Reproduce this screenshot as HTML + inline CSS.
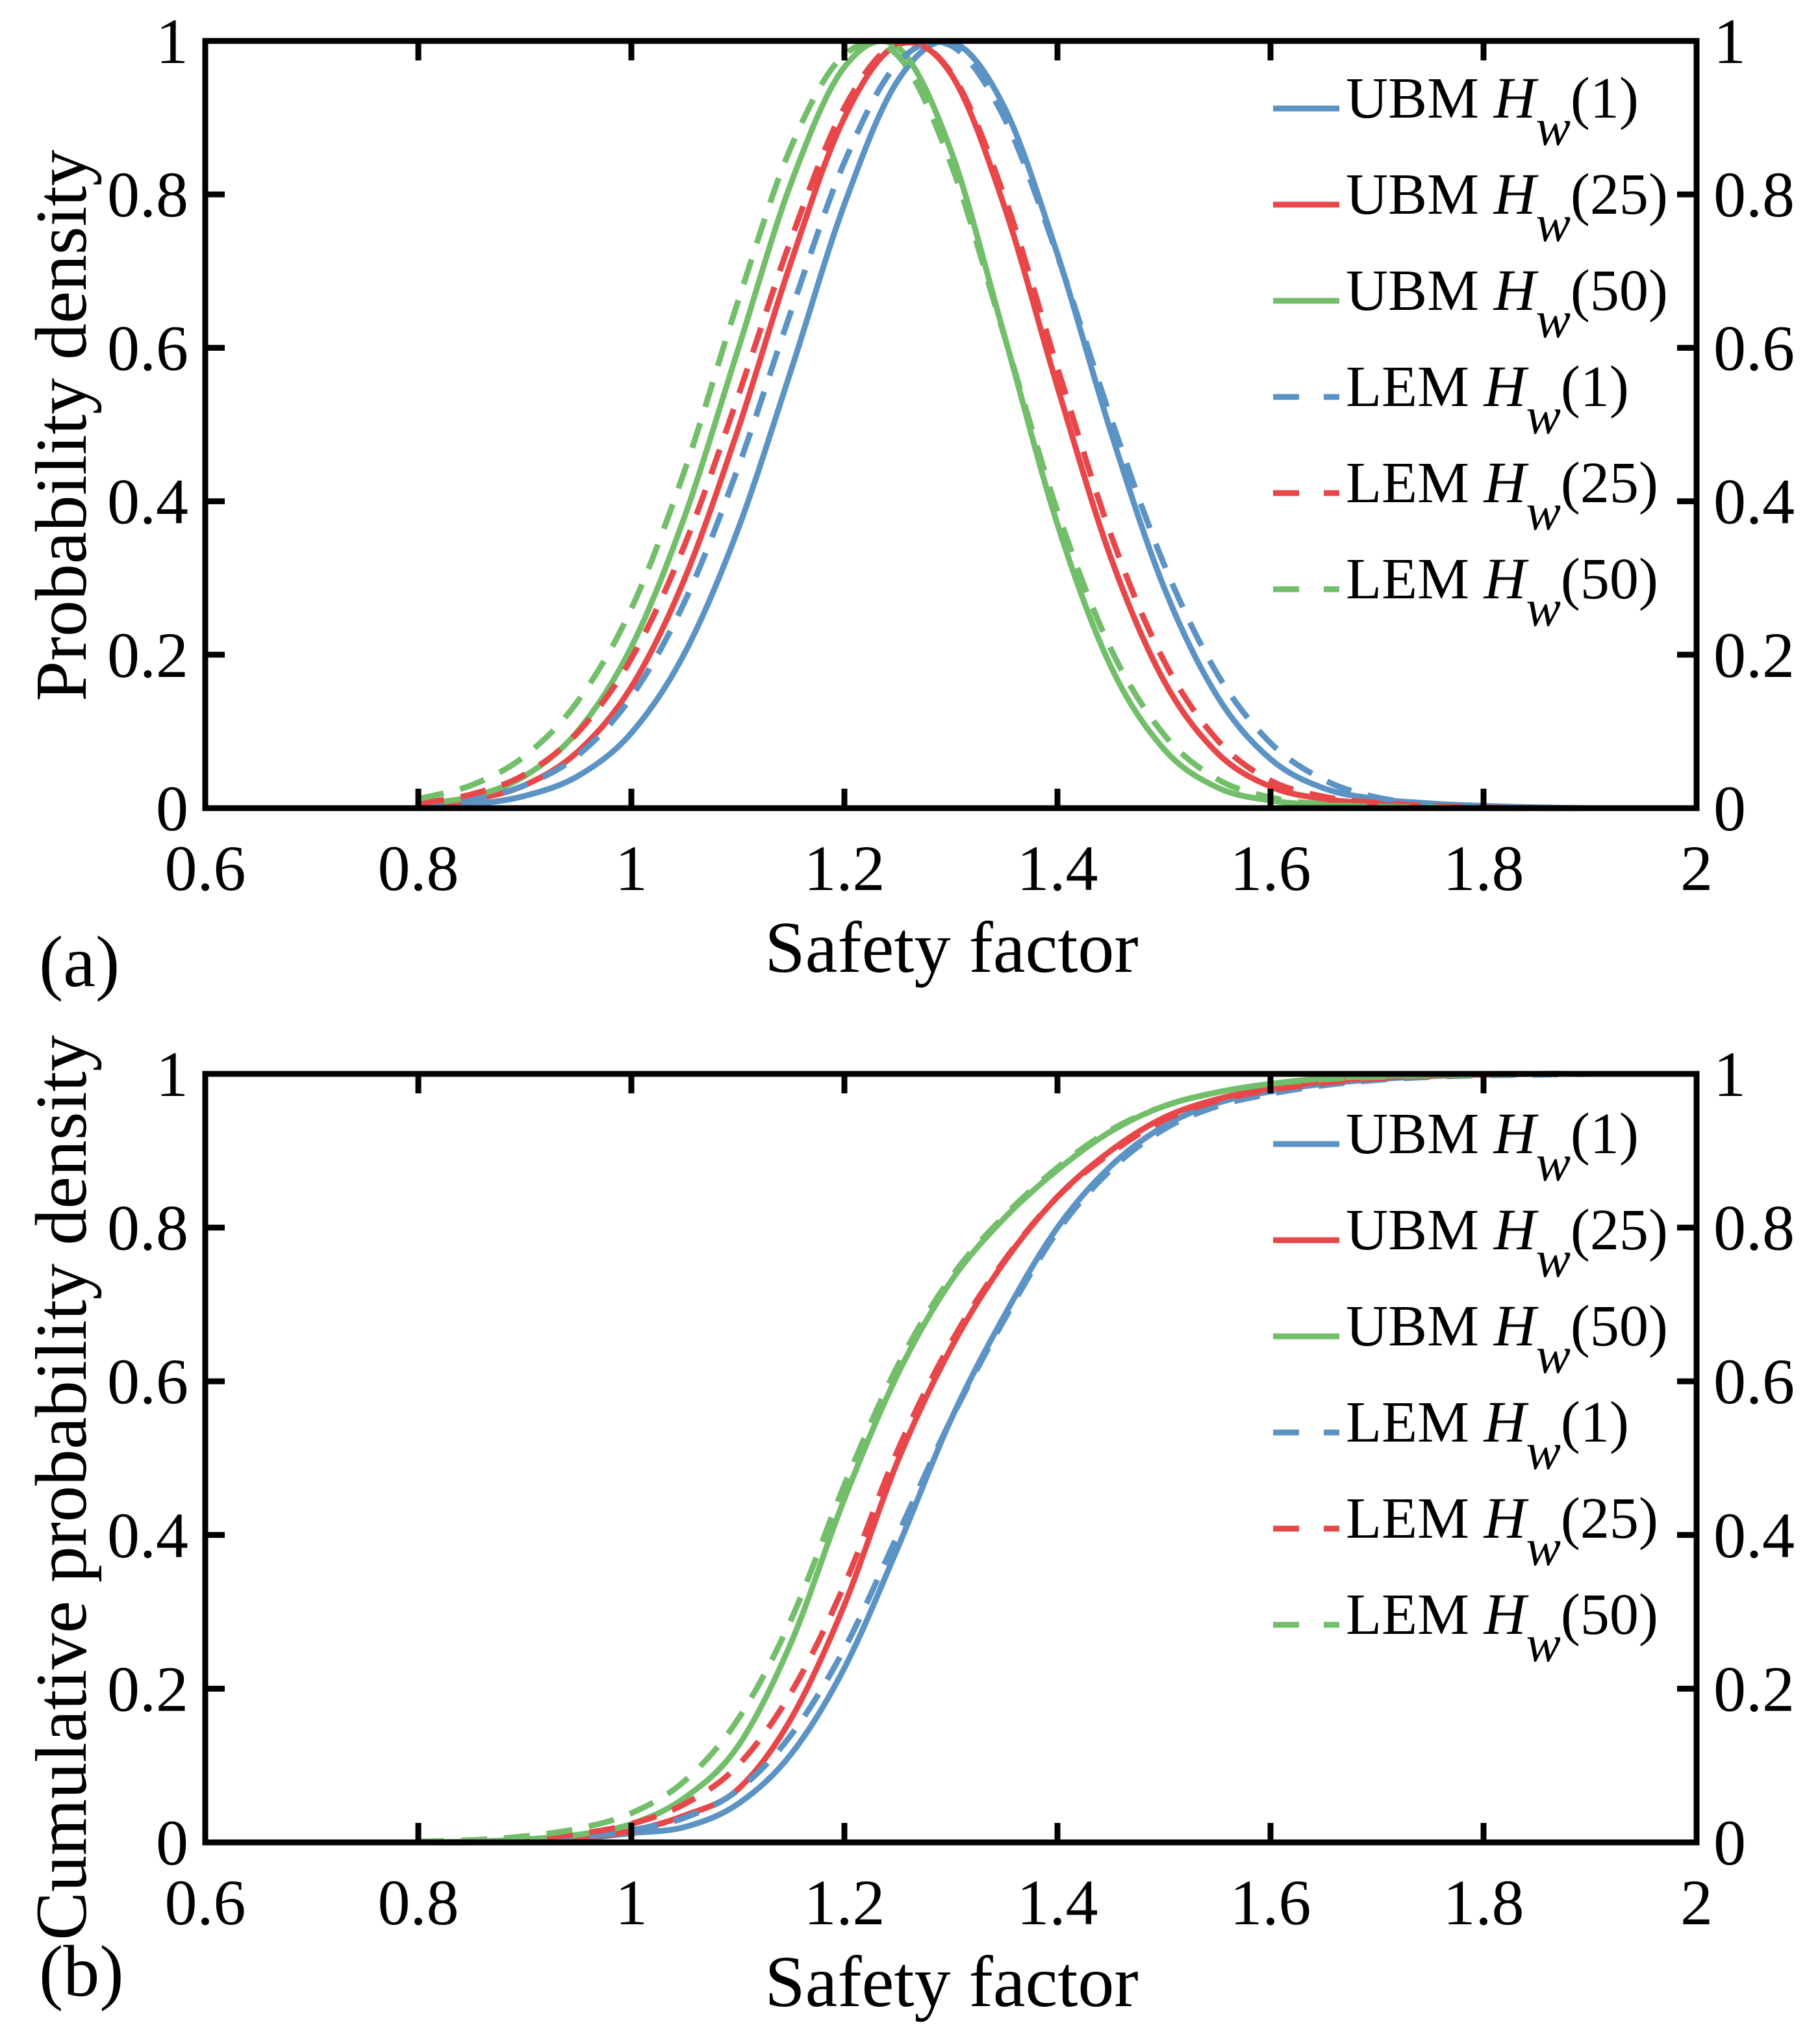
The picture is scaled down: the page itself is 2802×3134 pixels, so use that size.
<!DOCTYPE html>
<html><head><meta charset="utf-8"><style>
html,body{margin:0;padding:0;background:#fff;}
svg{display:block;}
svg text{font-family:"Liberation Serif","Times New Roman",serif;}
</style></head><body>
<svg id="chart" width="2802" height="3134" viewBox="0 0 2802 3134" xmlns="http://www.w3.org/2000/svg" font-family="Liberation Serif, serif">
<rect width="2802" height="3134" fill="#fff"/>
<g id="panelA"></g>
<g id="panelB"></g>
<text x="60" y="1518" font-size="112">(a)</text>
<text x="60" y="3072" font-size="112">(b)</text>
<text x="1465" y="1496" font-size="112" text-anchor="middle">Safety factor</text>
<text x="1465" y="3088" font-size="112" text-anchor="middle">Safety factor</text>
<text transform="translate(132,655) rotate(-90)" font-size="112" text-anchor="middle">Probability density</text>
<text transform="translate(132,2290) rotate(-90)" font-size="112" text-anchor="middle">Cumulative probability density</text>
</svg>
<script>
const xGrid = [0.80,0.85,0.90,0.95,1.00,1.05,1.10,1.15,1.20,1.25,1.30,1.35,1.40,1.45,1.50,1.55,1.60,1.65,1.70,1.75,1.80,1.85,1.90];
const xTicks = [0.6,0.8,1,1.2,1.4,1.6,1.8,2];
const xTickLabels = ["0.6","0.8","1","1.2","1.4","1.6","1.8","2"];
const yTicks = [0,0.2,0.4,0.6,0.8,1];
const yTickLabels = ["0","0.2","0.4","0.6","0.8","1"];
const seriesNames = ["UBM","UBM","UBM","LEM","LEM","LEM"];
const seriesHw = ["(1)","(25)","(50)","(1)","(25)","(50)"];
const pdfUBM1  = [0.0015,0.005,0.016,0.042,0.098,0.202,0.363,0.571,0.787,0.948,0.999,0.914,0.722,0.491,0.288,0.146,0.064,0.026,0.012,0.006,0.003,0.001,0];
const pdfUBM25 = [0.003,0.011,0.030,0.074,0.158,0.299,0.493,0.712,0.900,0.995,0.957,0.785,0.549,0.327,0.166,0.072,0.028,0.012,0.006,0.003,0.001,0,0];
const pdfUBM50 = [0.005,0.015,0.042,0.101,0.210,0.380,0.597,0.815,0.966,0.992,0.857,0.617,0.370,0.185,0.077,0.027,0.010,0.004,0.002,0.001,0,0,0];
const pdfLEM1  = [0.004,0.011,0.030,0.069,0.145,0.269,0.443,0.648,0.842,0.971,0.994,0.900,0.720,0.509,0.318,0.175,0.085,0.037,0.014,0.006,0.003,0.001,0];
const pdfLEM25 = [0.006,0.018,0.044,0.099,0.195,0.343,0.536,0.742,0.913,0.997,0.959,0.798,0.574,0.357,0.192,0.089,0.036,0.015,0.007,0.003,0.001,0,0];
const pdfLEM50 = [0.012,0.030,0.068,0.140,0.260,0.440,0.660,0.862,0.982,0.981,0.840,0.616,0.387,0.208,0.096,0.038,0.014,0.005,0.002,0.001,0,0,0];
const cdfUBM1  = [0,0.001,0.002,0.005,0.012,0.020,0.050,0.115,0.227,0.383,0.550,0.685,0.800,0.880,0.932,0.962,0.977,0.987,0.993,0.997,0.999,1,1];
const cdfUBM25 = [0,0,0.002,0.006,0.015,0.035,0.069,0.161,0.309,0.496,0.643,0.755,0.840,0.900,0.943,0.967,0.981,0.990,0.995,0.998,0.999,1,1];
const cdfUBM50 = [0,0.001,0.004,0.010,0.024,0.058,0.125,0.260,0.447,0.609,0.730,0.812,0.875,0.925,0.958,0.976,0.987,0.994,0.997,0.999,1,1,1];
const cdfLEM1  = [0,0.001,0.003,0.007,0.016,0.032,0.068,0.140,0.252,0.400,0.550,0.680,0.795,0.875,0.928,0.958,0.974,0.985,0.992,0.996,0.998,0.999,1];
const cdfLEM25 = [0.001,0.002,0.005,0.011,0.024,0.050,0.100,0.195,0.335,0.510,0.650,0.757,0.840,0.897,0.940,0.965,0.979,0.988,0.994,0.997,0.999,1,1];
const cdfLEM50 = [0.001,0.003,0.008,0.018,0.038,0.080,0.160,0.290,0.465,0.620,0.735,0.815,0.878,0.927,0.958,0.976,0.987,0.993,0.996,0.998,0.999,1,1];

const NS = "http://www.w3.org/2000/svg";
const colors = ["#5b93c4","#e8474a","#72be6a","#5b93c4","#e8474a","#72be6a"];
const dashed = [false,false,false,true,true,true];
const X0 = 316, X1 = 2612;
function xScale(v){ return X0 + (v - 0.6) / 1.4 * (X1 - X0); }
function mk(tag, attrs, parent){ const e = document.createElementNS(NS, tag); for (const k in attrs) e.setAttribute(k, attrs[k]); parent.appendChild(e); return e; }
function pathFor(xs, ys, yScale){
  const p = xs.map((x,i)=>[xScale(x), yScale(ys[i])]);
  let d = "M" + p[0][0].toFixed(1) + "," + p[0][1].toFixed(1);
  for (let i=0;i<p.length-1;i++){
    const p0 = p[Math.max(0,i-1)], p1 = p[i], p2 = p[i+1], p3 = p[Math.min(p.length-1,i+2)];
    let c1y = p1[1] + (p2[1]-p0[1])/6, c2y = p2[1] - (p3[1]-p1[1])/6;
    const lo = Math.min(p1[1],p2[1]), hi = Math.max(p1[1],p2[1]);
    c1y = Math.min(Math.max(c1y, lo-40), hi+40); c2y = Math.min(Math.max(c2y, lo-40), hi+40);
    d += " C" + (p1[0]+(p2[0]-p0[0])/6).toFixed(1) + "," + c1y.toFixed(1) + " " + (p2[0]-(p3[0]-p1[0])/6).toFixed(1) + "," + c2y.toFixed(1) + " " + p2[0].toFixed(1) + "," + p2[1].toFixed(1);
  }
  return d;
}
function panel(g, Y0, Y1, data, legendTop, tag){
  const yScale = v => Y1 - v * (Y1 - Y0);
  const keys = ["UBM1","UBM25","UBM50","LEM1","LEM25","LEM50"];
  data.forEach((ys, i) => {
    const el = mk("path", {d: pathFor(xGrid, ys, yScale), fill:"none", stroke: colors[i], "stroke-width": 9, "stroke-linejoin":"round"}, g);
    if (dashed[i]) el.setAttribute("stroke-dasharray", "40 26");
    
    
  });
  const frame = mk("rect", {x: X0, y: Y0, width: X1-X0, height: Y1-Y0, fill:"none", stroke:"#000", "stroke-width": 9}, g);
  
  
  xTicks.forEach((v,i) => {
    const x = xScale(v);
    const t1 = mk("line", {x1:x, x2:x, y1:Y1, y2:Y1-30, stroke:"#000","stroke-width":9}, g);
    
    
    const t2 = mk("line", {x1:x, x2:x, y1:Y0, y2:Y0+30, stroke:"#000","stroke-width":9}, g);
    
    
    const lb = mk("text", {x:x, y:Y1+126, "font-size":100, "text-anchor":"middle"}, g);
    lb.textContent = xTickLabels[i];
    
    
  });
  yTicks.forEach((v,i) => {
    const y = yScale(v);
    const t1 = mk("line", {x1:X0, x2:X0+30, y1:y, y2:y, stroke:"#000","stroke-width":9}, g);
    
    
    const t2 = mk("line", {x1:X1, x2:X1-30, y1:y, y2:y, stroke:"#000","stroke-width":9}, g);
    
    
    const l1 = mk("text", {x:290, y:y+34, "font-size":100, "text-anchor":"end"}, g);
    l1.textContent = yTickLabels[i];
    
    
    const l2 = mk("text", {x:2638, y:y+34, "font-size":100}, g);
    l2.textContent = yTickLabels[i];
    
    
  });
  keys.forEach((k,i) => {
    const y = legendTop + i * 148;
    const ent = mk("g", {}, g);
    
    
    const ln = mk("line", {x1:1960, x2:2062, y1:y, y2:y, stroke: colors[i], "stroke-width": 9}, ent);
    if (dashed[i]) ln.setAttribute("stroke-dasharray", "40 38");
    const tx = mk("text", {x:2072, y:y+14, "font-size":90}, ent);
    const a = mk("tspan", {}, tx); a.textContent = seriesNames[i] + " ";
    const b = mk("tspan", {"font-style":"italic"}, tx); b.textContent = "H";
    const c = mk("tspan", {"font-style":"italic", dy: 42, "font-size": 80}, tx); c.textContent = "w";
    const d = mk("tspan", {dy: -42}, tx); d.textContent = seriesHw[i];
  });
}
panel(document.getElementById("panelA"), 63, 1244, [pdfUBM1,pdfUBM25,pdfUBM50,pdfLEM1,pdfLEM25,pdfLEM50], 167, "pdf");
panel(document.getElementById("panelB"), 1653, 2836, [cdfUBM1,cdfUBM25,cdfUBM50,cdfLEM1,cdfLEM25,cdfLEM50], 1761, "cdf");
</script>
</body></html>
